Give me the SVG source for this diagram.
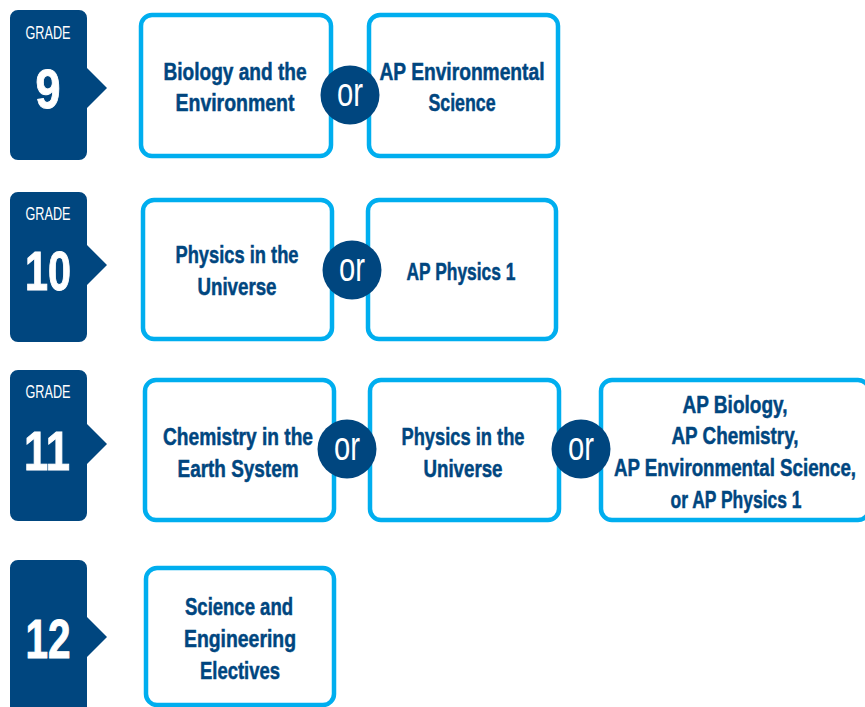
<svg xmlns="http://www.w3.org/2000/svg" width="865" height="707" viewBox="0 0 865 707">
<style>
.tab{fill:#00467F}
.box{fill:#fff;stroke:#00AEEF;stroke-width:4.5}
.orc{fill:#00467F}
.t{font-family:"Liberation Sans",Arial,sans-serif;font-weight:bold;font-size:24px;fill:#00467F;stroke:#00467F;stroke-width:0.5;text-anchor:middle}
.g{font-family:"Liberation Sans",Arial,sans-serif;font-size:19px;fill:#fff;text-anchor:middle}
.n{font-family:"Liberation Sans",Arial,sans-serif;font-weight:bold;font-size:56px;fill:#fff;stroke:#fff;stroke-width:1;text-anchor:middle}
.o{font-family:"Liberation Sans",Arial,sans-serif;font-size:40px;fill:#fff;text-anchor:middle}
</style>
<rect width="865" height="707" fill="#fff"/>
<g id="connectors"/>

<!-- Grade tabs -->
<g id="grade9">
<path class="tab" d="M18 10H79A8 8 0 0 1 87 18V68L107 88L87 108V152A8 8 0 0 1 79 160H18A8 8 0 0 1 10 152V18A8 8 0 0 1 18 10Z"/>
<text class="g" x="48" y="39" textLength="45" lengthAdjust="spacingAndGlyphs">GRADE</text>
<text class="n" x="48" y="108" textLength="25" lengthAdjust="spacingAndGlyphs">9</text>
</g>
<g id="grade10">
<path class="tab" d="M18 192H79A8 8 0 0 1 87 200V245L107 265L87 285V334A8 8 0 0 1 79 342H18A8 8 0 0 1 10 334V200A8 8 0 0 1 18 192Z"/>
<text class="g" x="48" y="220" textLength="45" lengthAdjust="spacingAndGlyphs">GRADE</text>
<text class="n" x="48" y="290" textLength="46" lengthAdjust="spacingAndGlyphs">10</text>
</g>
<g id="grade11">
<path class="tab" d="M18 370H79A8 8 0 0 1 87 378V424L107 444L87 464V513A8 8 0 0 1 79 521H18A8 8 0 0 1 10 513V378A8 8 0 0 1 18 370Z"/>
<text class="g" x="48" y="398" textLength="45" lengthAdjust="spacingAndGlyphs">GRADE</text>
<text class="n" x="47" y="470" textLength="46" lengthAdjust="spacingAndGlyphs">11</text>
</g>
<g id="grade12">
<path class="tab" d="M18 560H79A8 8 0 0 1 87 568V617L107 637L87 657V715H10V568A8 8 0 0 1 18 560Z"/>
<text class="n" x="48" y="658" textLength="45" lengthAdjust="spacingAndGlyphs">12</text>
</g>

<!-- Row 1 -->
<g id="bio-env">
<rect class="box" x="141" y="15" width="190" height="141" rx="11"/>
<text class="t" x="235" y="80" textLength="143" lengthAdjust="spacingAndGlyphs">Biology and the</text>
<text class="t" x="235" y="111" textLength="119" lengthAdjust="spacingAndGlyphs">Environment</text>
</g>
<g id="ap-env-9">
<rect class="box" x="369" y="15" width="189" height="141" rx="11"/>
<text class="t" x="462" y="80" textLength="165" lengthAdjust="spacingAndGlyphs">AP Environmental</text>
<text class="t" x="462" y="111" textLength="67" lengthAdjust="spacingAndGlyphs">Science</text>
</g>
<g id="or1">
<circle class="orc" cx="350" cy="95" r="29.5"/>
<text class="o" x="350" y="106" textLength="26" lengthAdjust="spacingAndGlyphs">or</text>
</g>

<!-- Row 2 -->
<g id="physics-10">
<rect class="box" x="143" y="200" width="189" height="139" rx="11"/>
<text class="t" x="237" y="263" textLength="123" lengthAdjust="spacingAndGlyphs">Physics in the</text>
<text class="t" x="237" y="295" textLength="79" lengthAdjust="spacingAndGlyphs">Universe</text>
</g>
<g id="ap-phys-10">
<rect class="box" x="368" y="200" width="188" height="139" rx="11"/>
<text class="t" x="461" y="280" textLength="109" lengthAdjust="spacingAndGlyphs">AP Physics 1</text>
</g>
<g id="or2">
<circle class="orc" cx="352" cy="270" r="29.5"/>
<text class="o" x="352" y="281" textLength="26" lengthAdjust="spacingAndGlyphs">or</text>
</g>

<!-- Row 3 -->
<g id="chem-11">
<rect class="box" x="145" y="380" width="189" height="140" rx="11"/>
<text class="t" x="238" y="445" textLength="150" lengthAdjust="spacingAndGlyphs">Chemistry in the</text>
<text class="t" x="238" y="477" textLength="121" lengthAdjust="spacingAndGlyphs">Earth System</text>
</g>
<g id="physics-11">
<rect class="box" x="370" y="380" width="189" height="140" rx="11"/>
<text class="t" x="463" y="445" textLength="123" lengthAdjust="spacingAndGlyphs">Physics in the</text>
<text class="t" x="463" y="477" textLength="79" lengthAdjust="spacingAndGlyphs">Universe</text>
</g>
<g id="ap-11">
<rect class="box" x="601" y="380" width="268" height="140" rx="11"/>
<text class="t" x="735" y="413" textLength="105" lengthAdjust="spacingAndGlyphs">AP Biology,</text>
<text class="t" x="735" y="444" textLength="127" lengthAdjust="spacingAndGlyphs">AP Chemistry,</text>
<text class="t" x="735" y="476" textLength="242" lengthAdjust="spacingAndGlyphs">AP Environmental Science,</text>
<text class="t" x="736" y="508" textLength="131" lengthAdjust="spacingAndGlyphs">or AP Physics 1</text>
</g>
<g id="or3">
<circle class="orc" cx="347" cy="449" r="29.5"/>
<text class="o" x="347" y="460" textLength="26" lengthAdjust="spacingAndGlyphs">or</text>
</g>
<g id="or4">
<circle class="orc" cx="581" cy="449" r="29.5"/>
<text class="o" x="581" y="460" textLength="26" lengthAdjust="spacingAndGlyphs">or</text>
</g>

<!-- Row 4 -->
<g id="electives-12">
<rect class="box" x="146" y="568" width="188" height="137" rx="11"/>
<text class="t" x="239" y="615" textLength="108" lengthAdjust="spacingAndGlyphs">Science and</text>
<text class="t" x="240" y="647" textLength="112" lengthAdjust="spacingAndGlyphs">Engineering</text>
<text class="t" x="240" y="679" textLength="80" lengthAdjust="spacingAndGlyphs">Electives</text>
</g>
</svg>
